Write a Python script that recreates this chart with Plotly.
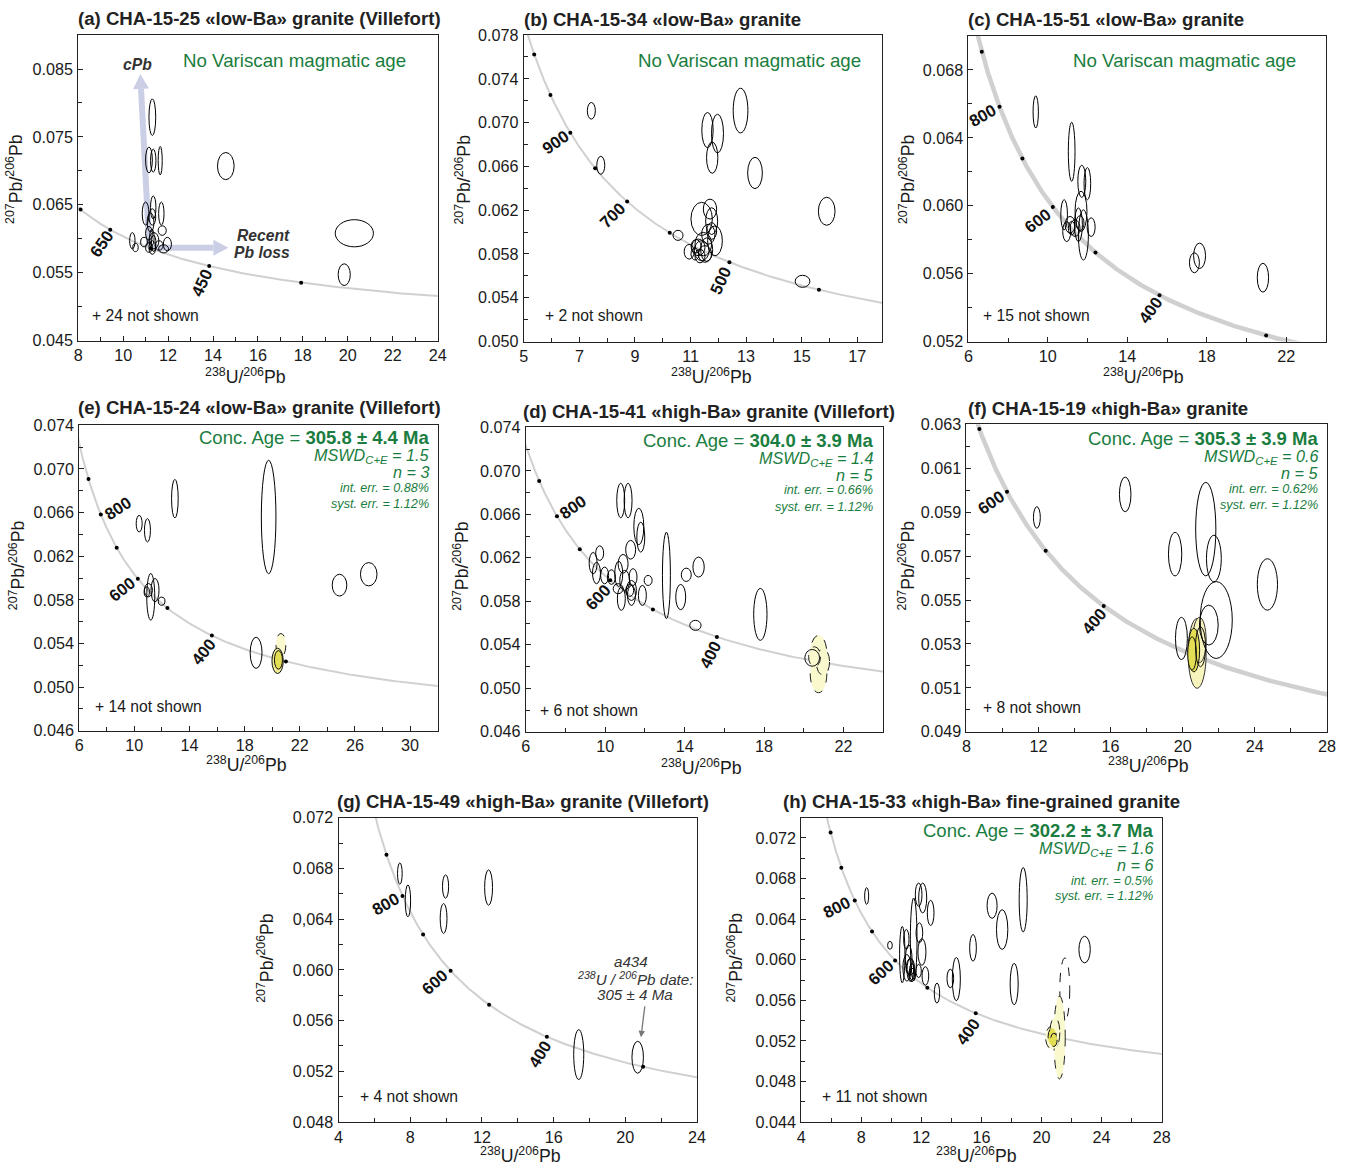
import numpy as np
import plotly.graph_objects as go

# target picture size (all positions below are measured in picture pixels)
W, H = 1348, 1167
# the page photo includes the 8 px body margin and is rescaled to W x H,
# so picture pixels are mapped back to figure pixels here
OFF = 8
KX = (W + 2 * OFF) / W
KY = (H + 2 * OFF) / H
FW, FH = 1348, 1175
FS = KX  # font-size compensation
FONT = "Liberation Sans, Arial, Helvetica, sans-serif"
GREEN = "#1a7d40"
INK = "#1a1a1a"

# ---------------- decay constants (concordia definition) ----------------
LAMBDA_238 = 1.55125e-4   # 1/Ma
LAMBDA_235 = 9.8485e-4    # 1/Ma
U238_U235 = 137.818

# ---------------- data: analyses (centre + semi-axes of 2s ellipses) ----------------
# (a) CHA-15-25
A_X = [11.30, 11.15, 11.34, 11.65, 14.57, 20.29, 19.84, 11.00, 11.34, 11.70, 11.22, 11.74,
       10.41, 10.93, 11.37, 11.97, 11.30, 11.15, 11.60, 11.30, 11.80, 11.15, 10.55, 11.28, 11.36]
A_Y = [0.0779, 0.0716, 0.0715, 0.0715, 0.0707, 0.0608, 0.0547, 0.0637, 0.0646, 0.0637, 0.0624, 0.0612,
       0.0597, 0.0595, 0.0597, 0.0592, 0.0587, 0.0608, 0.0590, 0.0632, 0.0585, 0.0587, 0.0587, 0.0602, 0.0593]
A_SX = [0.15, 0.15, 0.12, 0.09, 0.37, 0.85, 0.27, 0.15, 0.12, 0.12, 0.15, 0.18,
        0.12, 0.15, 0.22, 0.18, 0.15, 0.15, 0.18, 0.15, 0.22, 0.15, 0.12, 0.10, 0.10]
A_SY = [0.0027, 0.0019, 0.0017, 0.0021, 0.0020, 0.0020, 0.0016, 0.0017, 0.0017, 0.0017, 0.0014, 0.0007,
        0.0012, 0.0007, 0.0012, 0.0010, 0.0010, 0.0010, 0.0007, 0.0012, 0.0006, 0.0007, 0.0006, 0.0012, 0.0012]
A_AGES = [750, 650, 550, 450, 350]
A_LABEL_AGES = [650, 450]

# (b) CHA-15-34
B_X = [7.43, 7.77, 11.61, 11.97, 11.78, 12.80, 13.32, 15.90, 15.03, 10.55, 10.95, 11.40, 11.70,
       11.76, 11.88, 11.46, 11.40, 11.28, 11.52, 11.20, 11.64, 11.34, 11.58, 11.16, 11.76]
B_Y = [0.07108, 0.0661, 0.06932, 0.0690, 0.0668, 0.0711, 0.0654, 0.0619, 0.0555, 0.0597, 0.0582, 0.0612, 0.0621,
       0.0610, 0.0592, 0.0589, 0.0583, 0.0586, 0.0580, 0.0587, 0.0598, 0.0578, 0.0584, 0.0580, 0.0601]
B_SX = [0.144, 0.144, 0.204, 0.216, 0.204, 0.265, 0.265, 0.30, 0.265, 0.18, 0.18, 0.385, 0.24,
        0.216, 0.265, 0.30, 0.265, 0.24, 0.24, 0.18, 0.24, 0.18, 0.216, 0.144, 0.18]
B_SY = [0.00076, 0.00082, 0.00161, 0.00177, 0.00143, 0.00204, 0.00143, 0.00128, 0.00055, 0.00046, 0.00067,
        0.00152, 0.00091, 0.00122, 0.00137, 0.00107, 0.00091, 0.00076, 0.00076, 0.00061, 0.00091, 0.00061,
        0.00107, 0.00055, 0.00076]
B_AGES = [1100, 1000, 900, 800, 700, 600, 500, 400]
B_LABEL_AGES = [900, 700, 500]

# (c) CHA-15-51
C_X = [9.39, 11.20, 11.71, 11.99, 10.82, 11.67, 11.79, 11.12, 10.95, 11.37, 11.62, 12.18, 11.20, 11.54,
       17.38, 17.64, 20.83]
C_Y = [0.06553, 0.06318, 0.06144, 0.0613, 0.05947, 0.05967, 0.05828, 0.05888, 0.05848, 0.05868, 0.05898,
       0.05874, 0.05868, 0.05888, 0.05664, 0.05705, 0.05576]
C_SX = [0.134, 0.168, 0.20, 0.168, 0.168, 0.30, 0.25, 0.25, 0.20, 0.25, 0.20, 0.20, 0.168, 0.20,
        0.25, 0.30, 0.285]
C_SY = [0.00095, 0.00174, 0.00095, 0.00095, 0.00089, 0.00119, 0.00148, 0.00049, 0.00059, 0.00049, 0.00043,
        0.00055, 0.0004, 0.00099, 0.00059, 0.00075, 0.00085]
C_AGES = [900, 800, 700, 600, 500, 400, 300]
C_LABEL_AGES = [800, 600, 400]

# (e) CHA-15-24
E_X = [12.94, 10.35, 10.95, 19.74, 24.88, 27.00, 18.83, 11.19, 11.50, 11.02, 10.90, 11.98]
E_Y = [0.06728, 0.06499, 0.06438, 0.06560, 0.05935, 0.06035, 0.05315, 0.05828, 0.05889, 0.05889, 0.05873, 0.05788]
E_SX = [0.24, 0.216, 0.216, 0.53, 0.53, 0.60, 0.43, 0.29, 0.29, 0.29, 0.19, 0.24]
E_SY = [0.00177, 0.00076, 0.00107, 0.0052, 0.0010, 0.00107, 0.00143, 0.00214, 0.00107, 0.00061, 0.00046, 0.00037]
E_CX = [20.63, 20.39, 20.45]
E_CY = [0.05385, 0.05241, 0.05250]
E_CSX = [0.36, 0.41, 0.29]
E_CSY = [0.00107, 0.00116, 0.00085]
E_AGES = [900, 800, 700, 600, 500, 400, 300]
E_LABEL_AGES = [800, 600, 400]

# (d) CHA-15-41
D_X = [10.78, 11.15, 11.69, 11.79, 11.28, 10.90, 9.72, 9.39, 9.56, 9.97, 10.31, 10.68, 10.98, 11.40,
       12.16, 10.65, 10.81, 11.32, 11.32, 11.23, 11.87, 13.08, 13.80, 14.08, 14.70, 14.54, 17.81]
D_Y = [0.06727, 0.06727, 0.06488, 0.0639, 0.06274, 0.06145, 0.06243, 0.06151, 0.0606, 0.06038, 0.06023,
       0.06053, 0.05992, 0.06023, 0.05992, 0.05916, 0.05824, 0.0590, 0.05854, 0.0590, 0.05854, 0.06038,
       0.05839, 0.06044, 0.06115, 0.05579, 0.0568]
D_SX = [0.2, 0.2, 0.25, 0.2, 0.25, 0.25, 0.2, 0.2, 0.2, 0.2, 0.2, 0.2, 0.25, 0.2, 0.2, 0.25, 0.2,
        0.25, 0.2, 0.2, 0.2, 0.2, 0.25, 0.25, 0.285, 0.285, 0.335]
D_SY = [0.00159, 0.00159, 0.00168, 0.00138, 0.00086, 0.00086, 0.00067, 0.00098, 0.00098, 0.00077, 0.00067,
        0.00116, 0.00092, 0.00077, 0.00046, 0.00046, 0.00107, 0.00092, 0.00092, 0.00055, 0.00092, 0.00398,
        0.00116, 0.00061, 0.00092, 0.00046, 0.00239]
D_CX = [20.74, 20.74, 20.96, 20.54, 20.42]
D_CY = [0.05319, 0.05136, 0.05243, 0.0529, 0.0528]
D_CSX = [0.42, 0.42, 0.335, 0.30, 0.37]
D_CSY = [0.00168, 0.00177, 0.00122, 0.00092, 0.00077]
D_AGES = [900, 800, 700, 600, 500, 400, 300]
D_LABEL_AGES = [800, 600, 400]

# (f) CHA-15-19
F_X = [11.91, 16.81, 19.58, 21.28, 21.73, 21.86, 21.45, 24.70, 19.93]
F_Y = [0.05876, 0.05981, 0.05709, 0.05823, 0.05689, 0.05409, 0.05386, 0.05571, 0.05325]
F_SX = [0.19, 0.32, 0.37, 0.56, 0.41, 0.89, 0.52, 0.56, 0.33]
F_SY = [0.00049, 0.00079, 0.00099, 0.00213, 0.00106, 0.00175, 0.00091, 0.00117, 0.00096]
F_CX = [20.80, 20.93, 20.62, 20.52, 20.99]
F_CY = [0.05257, 0.05318, 0.05272, 0.05257, 0.05287]
F_CSX = [0.50, 0.37, 0.32, 0.24, 0.28]
F_CSY = [0.00159, 0.00103, 0.00099, 0.00076, 0.00091]
F_AGES = [700, 600, 500, 400, 300]
F_LABEL_AGES = [600, 400]

# (g) CHA-15-49
G_X = [7.42, 7.87, 9.97, 9.86, 12.37, 17.40, 20.69]
G_Y = [0.06759, 0.06544, 0.06657, 0.06405, 0.06649, 0.05332, 0.05311]
G_SX = [0.13, 0.15, 0.17, 0.19, 0.22, 0.28, 0.32]
G_SY = [0.00084, 0.00126, 0.00092, 0.00118, 0.00139, 0.00197, 0.00126]
G_AGES = [900, 800, 700, 600, 500, 400, 300]
G_LABEL_AGES = [800, 600, 400]

# (h) CHA-15-33
H_X = [8.36, 9.91, 10.73, 11.00, 11.16, 11.27, 11.04, 11.38, 11.49, 11.82, 12.09, 12.62, 11.87, 12.04,
       11.82, 12.27, 13.04, 13.93, 14.33, 15.44, 16.71, 17.38, 18.78, 18.18, 22.87, 11.27, 11.38]
H_Y = [0.06628, 0.06142, 0.0605, 0.0620, 0.0600, 0.0590, 0.0592, 0.0585, 0.0620, 0.06641, 0.06608, 0.06461,
       0.06265, 0.06076, 0.05889, 0.0584, 0.05671, 0.05815, 0.05809, 0.06117, 0.06532, 0.06297, 0.06591,
       0.0576, 0.0610, 0.0593, 0.0588]
H_SX = [0.133, 0.156, 0.178, 0.178, 0.222, 0.222, 0.267, 0.222, 0.222, 0.222, 0.267, 0.222, 0.222, 0.267,
        0.178, 0.222, 0.178, 0.222, 0.267, 0.222, 0.333, 0.378, 0.267, 0.267, 0.378, 0.267, 0.178]
H_SY = [0.00082, 0.00039, 0.00278, 0.00098, 0.00147, 0.00114, 0.00131, 0.00065, 0.00408, 0.00114, 0.00147,
        0.00124, 0.00098, 0.00131, 0.00065, 0.00091, 0.00098, 0.00091, 0.00212, 0.00131, 0.00124, 0.00196,
        0.00317, 0.00203, 0.00131, 0.00082, 0.00082]
H_CX = [21.55, 21.20, 20.71, 20.89, 20.71, 20.82]
H_CY = [0.05707, 0.05233, 0.05233, 0.05282, 0.05243, 0.0521]
H_CSX = [0.33, 0.38, 0.44, 0.33, 0.27, 0.22]
H_CSY = [0.0031, 0.00408, 0.00114, 0.00147, 0.00082, 0.00065]
H_AGES = [1000, 900, 800, 700, 600, 500, 400, 300]
H_LABEL_AGES = [800, 600, 400]

# text content
TITLES = {
    'a': "(a) CHA-15-25 «low-Ba» granite (Villefort)",
    'b': "(b) CHA-15-34 «low-Ba» granite",
    'c': "(c) CHA-15-51 «low-Ba» granite",
    'e': "(e) CHA-15-24 «low-Ba» granite (Villefort)",
    'd': "(d) CHA-15-41 «high-Ba» granite (Villefort)",
    'f': "(f) CHA-15-19 «high-Ba» granite",
    'g': "(g) CHA-15-49 «high-Ba» granite (Villefort)",
    'h': "(h) CHA-15-33 «high-Ba» fine-grained granite",
}
NOT_SHOWN = {'a': 24, 'b': 2, 'c': 15, 'e': 14, 'd': 6, 'f': 8, 'g': 4, 'h': 11}
CONC_AGE = {'e': "305.8 ± 4.4 Ma", 'd': "304.0 ± 3.9 Ma", 'f': "305.3 ± 3.9 Ma", 'h': "302.2 ± 3.7 Ma"}
MSWD = {'e': "1.5", 'd': "1.4", 'f': "0.6", 'h': "1.6"}
N_GRAINS = {'e': 3, 'd': 5, 'f': 5, 'h': 6}
INT_ERR = {'e': "0.88", 'd': "0.66", 'f': "0.62", 'h': "0.5"}
SYST_ERR = {'e': "1.12", 'd': "1.12", 'f': "1.12", 'h': "1.12"}

# ---------------- styles / layout (pixel geometry) ----------------
YSTYLE = {
    'pale_dash': dict(fill="rgb(250,248,205)", dash="dash", color="#222"),
    'pale':      dict(fill="rgb(247,244,190)", dash="solid", color="#333"),
    'mid':       dict(fill="rgb(240,236,150)", dash="solid", color="#111"),
    'deep':      dict(fill="rgb(228,222,85)", dash="solid", color="#111"),
    'deep_dash': dict(fill="rgb(228,222,85)", dash="dash", color="#111"),
    'open':      dict(fill="rgba(0,0,0,0)", dash="solid", color="#111"),
    'open_dash': dict(fill="rgba(0,0,0,0)", dash="dash", color="#111"),
}
E_STY = ['pale_dash', 'mid', 'deep']
D_STY = ['pale_dash', 'pale_dash', 'pale_dash', 'pale_dash', 'open']
F_STY = ['pale', 'pale', 'deep', 'deep', 'open']
H_STY = ['open_dash', 'pale_dash', 'pale_dash', 'pale_dash', 'deep_dash', 'deep_dash']

PANELS = [
    dict(key='a', data=(A_X, A_Y, A_SX, A_SY), conc=None, ages=A_AGES, lab=A_LABEL_AGES,
         box=(81, 440, 34, 340), xr=(8, 24), yr=(0.045, 0.090), xt=(8, 1, 2), yt=(0.045, 0.005, 0.01), lw=2,
         title=(79, 17), xtitle=(248, 376), ytitle=(17, 178), note=(93, 315),
         labpos=[(105, 243, -55), (205, 282, -65)]),
    dict(key='b', data=(B_X, B_Y, B_SX, B_SY), conc=None, ages=B_AGES, lab=B_LABEL_AGES,
         box=(526, 884, 34, 341), xr=(5, 17.9), yr=(0.050, 0.078), xt=(5, 1, 2), yt=(0.050, 0.002, 0.004), lw=2,
         title=(524, 18), xtitle=(713, 376), ytitle=(465, 179), note=(545, 315),
         labpos=[(558, 142, -35), (615, 215, -45), (723, 280, -65)]),
    dict(key='c', data=(C_X, C_Y, C_SX, C_SY), conc=None, ages=C_AGES, lab=C_LABEL_AGES,
         box=(970, 1327, 35, 341), xr=(6, 24), yr=(0.052, 0.070), xt=(6, 2, 4), yt=(0.052, 0.002, 0.004), lw=4.5,
         title=(968, 18), xtitle=(1145, 376), ytitle=(908, 178), note=(983, 315),
         labpos=[(985, 115, -30), (1040, 220, -38), (1152, 310, -55)]),
    dict(key='e', data=(E_X, E_Y, E_SX, E_SY), conc=(E_CX, E_CY, E_CSX, E_CSY, E_STY), ages=E_AGES, lab=E_LABEL_AGES,
         box=(82, 440, 425, 731), xr=(6, 32), yr=(0.046, 0.074), xt=(6, 2, 4), yt=(0.046, 0.002, 0.004), lw=2,
         title=(79, 407), xtitle=(249, 764), ytitle=(20, 565), note=(96, 707),
         labpos=[(121, 508, -33), (125, 589, -38), (207, 652, -52)], stats=(433, [438, 455, 471, 488, 504])),
    dict(key='d', data=(D_X, D_Y, D_SX, D_SY), conc=(D_CX, D_CY, D_CSX, D_CSY, D_STY), ages=D_AGES, lab=D_LABEL_AGES,
         box=(528, 885, 427, 732), xr=(6, 24), yr=(0.046, 0.074), xt=(6, 2, 4), yt=(0.046, 0.002, 0.004), lw=2,
         title=(523, 411), xtitle=(703, 767), ytitle=(463, 566), note=(540, 711),
         labpos=[(575, 507, -35), (600, 597, -47), (713, 655, -63)], stats=(877, [441, 458, 474, 490, 507])),
    dict(key='f', data=(F_X, F_Y, F_SX, F_SY), conc=(F_CX, F_CY, F_CSX, F_CSY, F_STY), ages=F_AGES, lab=F_LABEL_AGES,
         box=(968, 1328, 424, 732), xr=(8, 28), yr=(0.049, 0.063), xt=(8, 2, 4), yt=(0.049, 0.001, 0.002), lw=4.5,
         title=(968, 408), xtitle=(1150, 765), ytitle=(908, 565), note=(983, 708),
         labpos=[(993, 502, -35), (1096, 622, -50)], stats=(1321, [439, 456, 472, 489, 505])),
    dict(key='g', data=(G_X, G_Y, G_SX, G_SY), conc=None, ages=G_AGES, lab=G_LABEL_AGES,
         box=(341, 699, 818, 1123), xr=(4, 24), yr=(0.048, 0.072), xt=(4, 2, 4), yt=(0.048, 0.002, 0.004), lw=2,
         title=(337, 802), xtitle=(523, 1156), ytitle=(268, 958), note=(360, 1097),
         labpos=[(388, 905, -30), (437, 983, -42), (542, 1055, -59)]),
    dict(key='h', data=(H_X, H_Y, H_SX, H_SY), conc=(H_CX, H_CY, H_CSX, H_CSY, H_STY), ages=H_AGES, lab=H_LABEL_AGES,
         box=(803, 1163, 818, 1123), xr=(4, 28), yr=(0.044, 0.074), xt=(4, 2, 4), yt=(0.044, 0.002, 0.004), lw=2,
         title=(783, 802), xtitle=(978, 1156), ytitle=(737, 958), note=(822, 1097),
         labpos=[(839, 908, -27), (883, 973, -43), (970, 1032, -55)], stats=(1156, [832, 848, 864, 881, 897])),
]
NO_VARISCAN_POS = {'a': (410, 59), 'b': (865, 59), 'c': (1299, 59)}


def concordia(t):
    e8 = np.exp(LAMBDA_238 * np.asarray(t, dtype=float)) - 1.0
    e5 = np.exp(LAMBDA_235 * np.asarray(t, dtype=float)) - 1.0
    return 1.0 / e8, e5 / e8 / U238_U235


def labelled_ticks(hi, start, lab, fmt):
    vals = []
    i = 0
    while start + i * lab <= hi + 1e-9:
        vals.append(start + i * lab)
        i += 1
    return vals, [fmt(v) for v in vals]


def PX(xp):
    return (xp * KX - OFF) / FW


def PY(yp):
    return 1 - (yp * KY - OFF) / FH


def P(xp, yp):
    return PX(xp), PY(yp)


fig = go.Figure()
annotations = []
shapes = []


def ann(xp, yp, text, size, color=INK, xanchor='center', yanchor='middle', angle=0):
    x, y = P(xp, yp)
    annotations.append(dict(x=x, y=y, xref='paper', yref='paper', text=text, showarrow=False,
                            font=dict(family=FONT, size=size * FS, color=color), xanchor=xanchor,
                            yanchor=yanchor, textangle=angle))


T_CURVE = np.linspace(120, 1700, 900)  # Ma, for drawing the concordia curve

for k, p in enumerate(PANELS, start=1):
    xref = 'x' if k == 1 else f'x{k}'
    yref = 'y' if k == 1 else f'y{k}'
    xa = 'xaxis' if k == 1 else f'xaxis{k}'
    ya = 'yaxis' if k == 1 else f'yaxis{k}'
    x0, x1, y0, y1 = p['box']
    key = p['key']

    xs, xstep, xlab = p['xt']
    ys_, ystep, ylab = p['yt']
    xv, xtxt = labelled_ticks(p['xr'][1], xs, xlab, lambda v: f"{v:g}")
    yfmt = (lambda v: f"{v:.3f}".replace("0.064", "0,064")) if key == 'g' else (lambda v: f"{v:.3f}")
    yv, ytxt = labelled_ticks(p['yr'][1], ys_, ylab, yfmt)

    common = dict(showline=True, mirror=True, linecolor='#222', linewidth=1, ticks='inside', ticklen=5,
                  tickwidth=1, tickcolor='#222', showgrid=False, zeroline=False,
                  tickfont=dict(family=FONT, size=16 * FS, color=INK))
    fig.update_layout({
        xa: dict(domain=[PX(x0), PX(x1)], range=list(p['xr']), anchor=yref, tickmode='array',
                 tickvals=xv, ticktext=xtxt,
                 minor=dict(ticks='inside', ticklen=4, tickwidth=1, tickcolor='#222', tick0=xs, dtick=xstep,
                            showgrid=False), **common),
        ya: dict(domain=[PY(y1), PY(y0)], range=list(p['yr']), anchor=xref, tickmode='array',
                 tickvals=yv, ticktext=ytxt, ticklabelstandoff=1,
                 minor=dict(ticks='inside', ticklen=4, tickwidth=1, tickcolor='#222', tick0=ys_, dtick=ystep,
                            showgrid=False), **common),
    })

    # concordia curve
    cx, cy = concordia(T_CURVE)
    fig.add_trace(go.Scatter(x=cx, y=cy, mode='lines', xaxis=xref, yaxis=yref, hoverinfo='skip',
                             line=dict(color='rgb(208,208,208)', width=p['lw']), showlegend=False))
    # age ticks on concordia
    ax_, ay_ = concordia(p['ages'])
    fig.add_trace(go.Scatter(x=ax_, y=ay_, mode='markers', xaxis=xref, yaxis=yref,
                             marker=dict(color='black', size=4), showlegend=False))

    # concordant (yellow) ellipses first
    if p['conc'] is not None:
        CX, CY, CSX, CSY, STY = p['conc']
        for cxx, cyy, sx, sy, st in zip(CX, CY, CSX, CSY, STY):
            s = YSTYLE[st]
            shapes.append(dict(type='circle', xref=xref, yref=yref, x0=cxx - sx, x1=cxx + sx,
                               y0=cyy - sy, y1=cyy + sy, fillcolor=s['fill'],
                               line=dict(color=s['color'], width=1, dash=s['dash'])))
    # other analyses
    X, Y, SX, SY = p['data']
    for cxx, cyy, sx, sy in zip(X, Y, SX, SY):
        shapes.append(dict(type='circle', xref=xref, yref=yref, x0=cxx - sx, x1=cxx + sx,
                           y0=cyy - sy, y1=cyy + sy, fillcolor='rgba(0,0,0,0)',
                           line=dict(color='black', width=1)))

    # texts
    ann(p['title'][0], p['title'][1], f"<b>{TITLES[key]}</b>", 18.4, color='#222', xanchor='left')
    ann(p['xtitle'][0], p['xtitle'][1], "<sup>238</sup>U/<sup>206</sup>Pb", 17.5)
    ann(p['ytitle'][0], p['ytitle'][1], "<sup>207</sup>Pb/<sup>206</sup>Pb", 17.5, angle=-90)
    ann(p['note'][0], p['note'][1], f"+ {NOT_SHOWN[key]} not shown", 15.5, xanchor='left')
    for age, (lx, ly, ang) in zip(p['lab'], p['labpos']):
        ann(lx, ly, f"<b>{age}</b>", 16.5, color='#111', angle=ang)
    if key in NO_VARISCAN_POS:
        nx, ny = NO_VARISCAN_POS[key]
        ann(nx, ny, "No Variscan magmatic age", 18.5, color=GREEN, xanchor='right')
    if 'stats' in p:
        rx, ys = p['stats']
        ann(rx, ys[0] - 1, f"Conc. Age = <b>{CONC_AGE[key]}</b>", 18.3, color=GREEN, xanchor='right')
        ann(rx, ys[1] + 1, f"<i>MSWD<sub>C+E</sub> = {MSWD[key]}</i>", 16, color=GREEN, xanchor='right')
        ann(rx, ys[2] + 1, f"<i>n = {N_GRAINS[key]}</i>", 16, color=GREEN, xanchor='right')
        ann(rx, ys[3], f"<i>int. err. = {INT_ERR[key]}%</i>", 12.5, color=GREEN, xanchor='right')
        ann(rx, ys[4], f"<i>syst. err. = {SYST_ERR[key]}%</i>", 12.5, color=GREEN, xanchor='right')


# ---- panel (a) interpretive arrows (drawn beneath the ellipses) ----
def arrow(tail, tip, width, head_len, head_half, color):
    (tx, ty), (hx, hy) = tail, tip
    d = np.hypot(hx - tx, hy - ty)
    ux, uy = (hx - tx) / d, (hy - ty) / d
    bx, by = hx - ux * head_len, hy - uy * head_len
    nx, ny = -uy, ux
    X0, Y0 = P(tx, ty)
    X1, Y1 = P(bx, by)
    shapes.append(dict(type='line', xref='paper', yref='paper', x0=X0, y0=Y0, x1=X1, y1=Y1,
                       line=dict(color=color, width=width), layer='below'))
    pts = [P(hx, hy), P(bx + nx * head_half, by + ny * head_half), P(bx - nx * head_half, by - ny * head_half)]
    path = "M " + " L ".join(f"{a:.5f},{b:.5f}" for a, b in pts) + " Z"
    shapes.append(dict(type='path', xref='paper', yref='paper', path=path, fillcolor=color,
                       line=dict(color=color, width=0), layer='below'))


LAV = "rgb(202,207,230)"
arrow((152, 247), (143, 73), 6, 15, 8, LAV)
arrow((152, 247), (231, 247), 6, 15, 8, LAV)
ann(140, 63, "<b><i>cPb</i></b>", 15.5, color='#333')
ann(266, 235, "<b><i>Recent</i></b>", 15.5, color='#333')
ann(265, 252, "<b><i>Pb loss</i></b>", 15.5, color='#333')

# ---- panel (g) single-grain annotation ----
ann(633, 962, "<i>a434</i>", 15, color='#333')
ann(637, 979, "<i><sup>238</sup>U / <sup>206</sup>Pb date:</i>", 15, color='#333')
ann(637, 995, "<i>305 ± 4 Ma</i>", 15, color='#333')
tx, ty = P(643, 1038)
annotations.append(dict(x=tx, y=ty, xref='paper', yref='paper', text='', showarrow=True,
                        ax=4 * KX, ay=-32 * KY, arrowcolor='#777', arrowwidth=1.3, arrowhead=2, arrowsize=1))

fig.update_layout(width=FW, height=FH, margin=dict(l=0, r=0, t=0, b=0), paper_bgcolor='white',
                  plot_bgcolor='white', showlegend=False, annotations=annotations, shapes=shapes,
                  font=dict(family=FONT))
fig.write_html("out.html")
